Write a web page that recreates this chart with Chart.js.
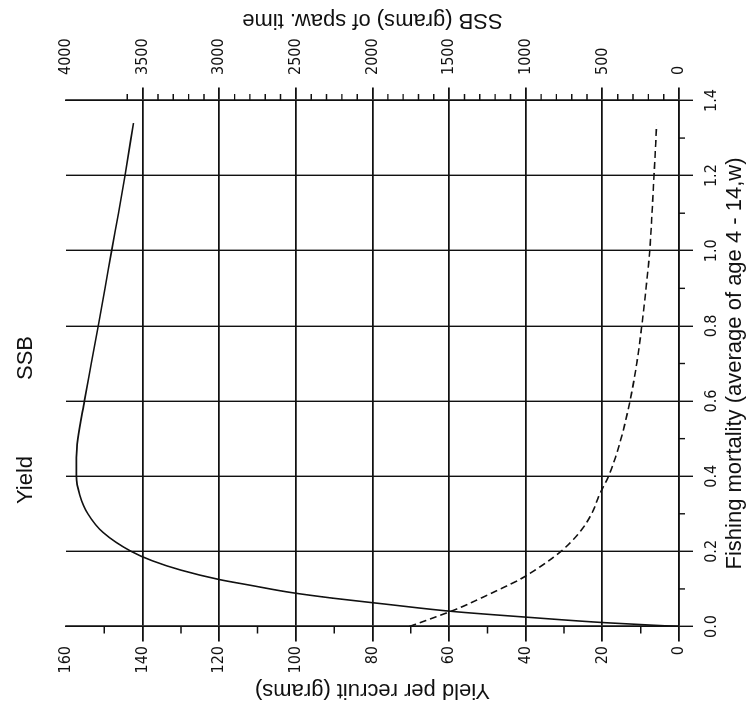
<!DOCTYPE html>
<html>
<head>
<meta charset="utf-8">
<script src="https://cdn.jsdelivr.net/npm/chart.js@4.4.1/dist/chart.umd.min.js"></script>
<style>
  html, body { margin: 0; padding: 0; background: #fff; overflow: hidden; width: 750px; height: 708px; }
  #wrap { position: absolute; left: 21px; top: -21px; width: 708px; height: 750px; transform: rotate(-90deg); transform-origin: 50% 50%; background: #fff; }
  canvas { display: block; }
</style>
</head>
<body>
<div id="wrap"><canvas id="c" width="708" height="750"></canvas></div>
<script>
// ---- data ----
const yieldF    = [0, 0.01, 0.025, 0.04, 0.06, 0.075, 0.09, 0.11, 0.125, 0.15, 0.175, 0.2, 0.25, 0.3, 0.35, 0.4, 0.45, 0.5, 0.6, 0.7, 0.8, 0.9, 1.0, 1.1, 1.2, 1.34];
const yieldVals = [0, 19, 40, 59, 77, 90, 101, 112, 120, 130, 137.5, 143, 150.3, 154.3, 156.4, 157.3, 157.3, 156.9, 155.2, 153.4, 151.6, 149.8, 148.1, 146.3, 144.6, 142.4];
const ssbF      = [0, 0.025, 0.05, 0.075, 0.1, 0.125, 0.15, 0.175, 0.2, 0.25, 0.3, 0.35, 0.4, 0.45, 0.5, 0.6, 0.7, 0.8, 0.9, 1.0, 1.1, 1.2, 1.335];
const ssbVals   = [1760, 1590, 1430, 1295, 1165, 1040, 940, 850, 770, 650, 570, 520, 460, 415, 378, 320, 276, 243, 215, 191, 176, 163, 146];
const fMinorTicks     = [0.1, 0.3, 0.5, 0.7, 0.9, 1.1, 1.3];
const yieldMinorTicks = [10, 30, 50, 70, 90, 110, 130, 150];
const ssbMinorTicks   = [];
for (let v = 100; v <= 3600; v += 100) if (v % 500 !== 0) ssbMinorTicks.push(v);
const legendLabels = ['Yield', 'SSB'];
const titles = {
  x: 'Fishing mortality (average of age 4 - 14,w)',
  y: 'Yield per recruit (grams)',
  y2: 'SSB (grams) of spaw. time'
};

const TICK_FONT = "'Liberation Sans Narrow', 'Arial Narrow', 'DejaVu Sans Condensed', sans-serif";
const MAIN_FONT = "'Liberation Sans', Arial, Helvetica, sans-serif";
const INK = '#111';

const extras = {
  id: 'extras',
  afterDraw(chart) {
    const ctx = chart.ctx;
    const {x, y, y2} = chart.scales;
    const area = chart.chartArea;
    ctx.save();
    ctx.strokeStyle = INK;
    ctx.lineWidth = 1.4;
    ctx.beginPath();
    fMinorTicks.forEach(v => { const p = x.getPixelForValue(v); ctx.moveTo(p, area.bottom); ctx.lineTo(p, area.bottom + 6); });
    yieldMinorTicks.forEach(v => { const p = y.getPixelForValue(v); ctx.moveTo(area.left - 7, p); ctx.lineTo(area.left, p); });
    ssbMinorTicks.forEach(v => { const p = y2.getPixelForValue(v); ctx.moveTo(area.right, p); ctx.lineTo(area.right + 6.5, p); });
    ctx.stroke();

    // right axis title (reads bottom-to-top like the left one)
    ctx.fillStyle = INK;
    ctx.font = '22px ' + MAIN_FONT;
    ctx.textAlign = 'center';
    ctx.textBaseline = 'middle';
    ctx.save();
    ctx.translate(688, (area.top + area.bottom) / 2);
    ctx.rotate(-Math.PI / 2);
    ctx.fillText(titles.y2, 0, 0);
    ctx.restore();

    // legend labels
    ctx.textAlign = 'left';
    ctx.textBaseline = 'alphabetic';
    ctx.font = '22px ' + MAIN_FONT;
    ctx.fillText(legendLabels[0], 204, 32);
    ctx.fillText(legendLabels[1], 328, 32);
    ctx.restore();
  }
};

const gridColorSkipTop = (top) => (c) => (c.tick && c.tick.value === top) ? 'rgba(0,0,0,0)' : INK;

new Chart(document.getElementById('c'), {
  type: 'line',
  data: {
    datasets: [
      {
        label: legendLabels[0],
        data: yieldF.map((f, i) => ({x: f, y: yieldVals[i]})),
        yAxisID: 'y',
        borderColor: INK,
        borderWidth: 1.6,
        pointRadius: 0,
        cubicInterpolationMode: 'monotone',
        fill: false
      },
      {
        label: legendLabels[1],
        data: ssbF.map((f, i) => ({x: f, y: ssbVals[i]})),
        yAxisID: 'y2',
        borderColor: INK,
        borderWidth: 1.6,
        borderDash: [7, 4],
        pointRadius: 0,
        cubicInterpolationMode: 'monotone',
        fill: false
      }
    ]
  },
  options: {
    responsive: false,
    animation: false,
    devicePixelRatio: 1,
    layout: { padding: { top: 66, left: 0, right: 0, bottom: 0 } },
    plugins: { legend: { display: false }, tooltip: { enabled: false } },
    scales: {
      x: {
        type: 'linear', min: 0, max: 1.4,
        afterFit(s) { s.height = 71; },
        ticks: { stepSize: 0.2, callback: v => Number(v).toFixed(1), color: INK, font: { family: TICK_FONT, size: 16 }, padding: 9, maxRotation: 0 },
        grid: { color: INK, lineWidth: 1.4, tickLength: 14 },
        border: { display: true, color: INK, width: 1.6 },
        title: { display: true, text: titles.x, color: INK, font: { family: MAIN_FONT, size: 22 }, padding: { top: 0, bottom: 2 } }
      },
      y: {
        type: 'linear', position: 'left', min: 0, max: 160,
        afterFit(s) { s.width = 81.5; },
        ticks: { stepSize: 20, callback: v => String(v), color: INK, font: { family: TICK_FONT, size: 16 }, padding: 4.5 },
        grid: { color: gridColorSkipTop(160), lineWidth: 1.8, tickLength: 15 },
        border: { display: true, color: INK, width: 1.6 },
        title: { display: true, text: titles.y, color: INK, font: { family: MAIN_FONT, size: 22 }, padding: { top: 5, bottom: 0 } }
      },
      y2: {
        type: 'linear', position: 'right', min: 0, max: 4000,
        afterFit(s) { s.width = 100.5; },
        ticks: { stepSize: 500, callback: v => String(v), color: INK, font: { family: TICK_FONT, size: 16 }, padding: 12.5 },
        grid: { color: gridColorSkipTop(4000), lineWidth: 1.8, tickLength: 13, drawOnChartArea: false },
        border: { display: true, color: INK, width: 1.6 }
      }
    }
  },
  plugins: [extras]
});
</script>
</body>
</html>
